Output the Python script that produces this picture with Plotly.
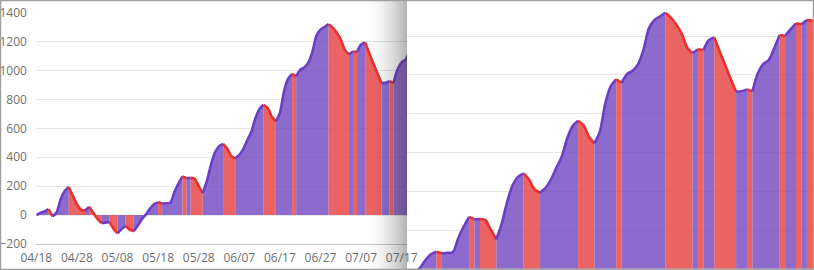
import pandas as pd
import plotly.graph_objects as go

# ---- data ----
start_date = "2019-04-18"
values = [0, 14, 25, 41, -9, 18, 110, 166, 194, 134,
          76, 38, 30, 57, 17, -24, -55, -52, -47, -93,
          -127, -97, -74, -101, -112, -72, -28, 5, 45, 75,
          88, 80, 82, 85, 157, 217, 268, 255, 257, 251,
          200, 152, 234, 346, 432, 475, 492, 460, 410, 392,
          416, 458, 520, 578, 672, 736, 763, 740, 680, 647,
          707, 853, 942, 977, 959, 1004, 1021, 1054, 1128, 1240,
          1282, 1300, 1320, 1296, 1260, 1214, 1142, 1111, 1131, 1128,
          1179, 1193, 1120, 1050, 980, 913, 915, 925, 915, 1008,
          1056, 1076, 1137, 1205, 1200, 1234, 1265, 1260, 1282, 1279,
          1272]
dates = pd.date_range(start_date, periods=len(values), freq="D")
y_ticks = [-200, 0, 200, 400, 600, 800, 1000, 1200, 1400]
zoom_grid_ticks = [200, 400, 600, 800, 1000, 1200]

UP_LINE, UP_FILL = "#6a3fc6", "rgba(112,70,192,0.80)"
DN_LINE, DN_FILL = "#e8302e", "rgba(232,72,70,0.85)"

# runs of rising / falling segments
runs = []
i = 0
n = len(values)
while i < n - 1:
    up = values[i + 1] >= values[i]
    j = i + 1
    while j < n - 1 and (values[j + 1] >= values[j]) == up:
        j += 1
    runs.append((i, j, up))
    i = j

fig = go.Figure()
for xa, ya in (("x", "y"), ("x2", "y2")):
    for (a, b, up) in runs:
        fig.add_trace(go.Scatter(
            x=dates[a:b + 1], y=values[a:b + 1],
            mode="lines", fill="tozeroy",
            line=dict(color=UP_LINE if up else DN_LINE, width=2.6,
                      shape="spline", smoothing=0.8),
            fillcolor=UP_FILL if up else DN_FILL,
            xaxis=xa, yaxis=ya, showlegend=False, hoverinfo="skip"))

d0 = pd.Timestamp(start_date)
def day(x):
    return d0 + pd.Timedelta(days=x)

W, H = 814, 270
left_x0, left_x1 = 36.3, 407.0
px_day = 4.06
left_range = [day(0), day((left_x1 - left_x0) / px_day)]

font = dict(family="Open Sans", size=12, color="#707070")
grid = "#e6e6e6"

fig.update_layout(
    width=W, height=H, margin=dict(l=0, r=0, t=0, b=0, pad=0),
    autosize=False,
    paper_bgcolor="white", plot_bgcolor="rgba(0,0,0,0)",
    font=font,
    xaxis=dict(domain=[left_x0 / W, left_x1 / W], range=left_range,
               type="date", tick0=start_date, dtick=10 * 86400000,
               tickformat="%m/%d", showgrid=False, zeroline=False,
               showline=True, linecolor="#c8c8c8", linewidth=1,
               ticks="outside", ticklen=3, tickcolor="rgba(0,0,0,0)",
               tickfont=font, fixedrange=True, automargin=False),
    yaxis=dict(domain=[(H - 244) / H, (H - 12.6) / H], range=[-200, 1400],
               tickvals=y_ticks, showgrid=True, gridcolor=grid,
               zeroline=False, showline=False, automargin=False,
               ticks="outside", ticklen=6, tickcolor="rgba(0,0,0,0)",
               tickfont=font),
    xaxis2=dict(domain=[left_x1 / W, 1], type="date",
                range=[day(24.6), day(99.3)], showgrid=False,
                showticklabels=False, zeroline=False, showline=False,
                automargin=False),
    yaxis2=dict(domain=[0, 1], range=[-6.2, 1385.6], anchor="x2",
                tickvals=zoom_grid_ticks,
                showticklabels=False, showgrid=True, gridcolor=grid,
                zeroline=False, showline=False, automargin=False),
)

shapes = []
# page-curl shadow over the right edge of the left panel
sx0, sx1 = 364.0, 407.0
steps = 43
for k in range(steps):
    xa = sx0 + (sx1 - sx0) * k / steps
    xb = sx0 + (sx1 - sx0) * (k + 1) / steps
    t = (k + 0.5) / steps
    alpha = 0.36 * t ** 1.9
    shapes.append(dict(type="rect", xref="paper", yref="paper",
                       x0=xa / W, x1=xb / W, y0=0, y1=1,
                       fillcolor=f"rgba(40,40,40,{alpha:.4f})",
                       line=dict(width=0), layer="above"))
# image border
shapes.append(dict(type="rect", xref="paper", yref="paper",
                   x0=0.0006, x1=0.9994, y0=0.002, y1=0.998,
                   line=dict(color="#a0a0a0", width=1.5),
                   fillcolor="rgba(0,0,0,0)", layer="above"))
fig.update_layout(shapes=shapes)

fig.write_html("out.html")
